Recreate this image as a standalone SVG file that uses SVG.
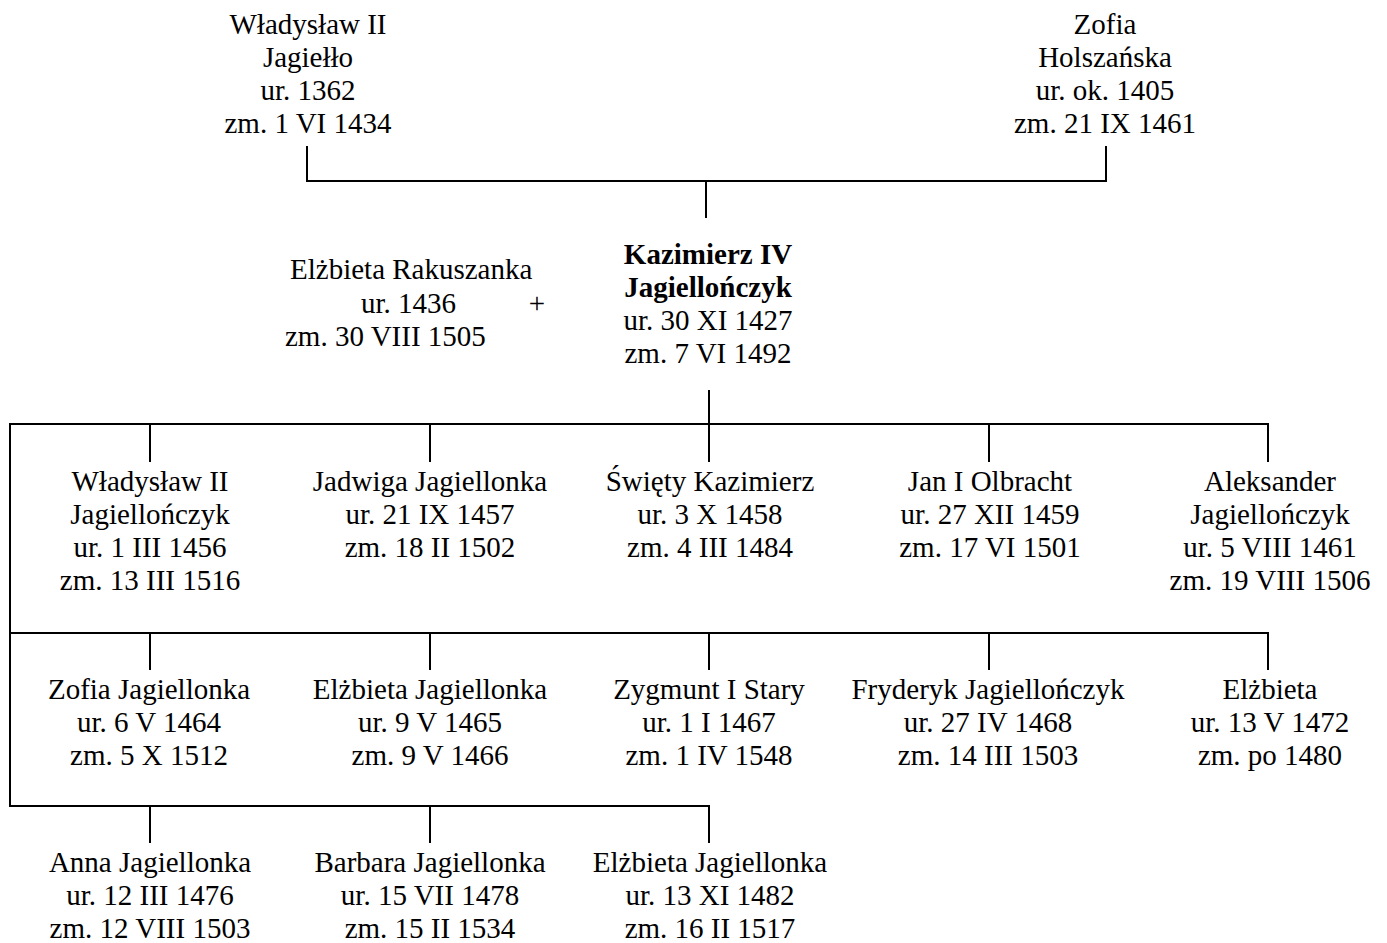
<svg xmlns="http://www.w3.org/2000/svg" width="1387" height="943" viewBox="0 0 1387 943">
<style>
text{font-family:"Liberation Serif","Times New Roman",serif;font-size:29px;fill:#000;text-anchor:middle}
.b{font-weight:bold}
.l{text-anchor:start}
#connectors line{stroke:#000;stroke-width:2;fill:none}
</style>
<rect width="1387" height="943" fill="#fff"/>
<g id="connectors">
<line x1="307" y1="146" x2="307" y2="182"/>
<line x1="1106" y1="146" x2="1106" y2="182"/>
<line x1="306" y1="181" x2="1107" y2="181"/>
<line x1="706" y1="181" x2="706" y2="218"/>
<line x1="709" y1="390" x2="709" y2="424"/>
<line x1="10" y1="424" x2="1269" y2="424"/>
<line x1="10" y1="423" x2="10" y2="807"/>
<line x1="150" y1="424" x2="150" y2="462"/>
<line x1="430" y1="424" x2="430" y2="462"/>
<line x1="709" y1="424" x2="709" y2="462"/>
<line x1="989" y1="424" x2="989" y2="462"/>
<line x1="1268" y1="424" x2="1268" y2="462"/>
<line x1="10" y1="633" x2="1269" y2="633"/>
<line x1="150" y1="633" x2="150" y2="670"/>
<line x1="430" y1="633" x2="430" y2="670"/>
<line x1="709" y1="633" x2="709" y2="670"/>
<line x1="989" y1="633" x2="989" y2="670"/>
<line x1="1268" y1="633" x2="1268" y2="670"/>
<line x1="9" y1="806" x2="710" y2="806"/>
<line x1="150" y1="806" x2="150" y2="843"/>
<line x1="430" y1="806" x2="430" y2="843"/>
<line x1="709" y1="806" x2="709" y2="843"/>
</g>
<g id="wladyslaw-jagiello"><text x="308" y="34">Władysław II</text><text x="308" y="67">Jagiełło</text><text x="308" y="100">ur. 1362</text><text x="308" y="133">zm. 1 VI 1434</text></g>
<g id="zofia-holszanska"><text x="1105" y="34">Zofia</text><text x="1105" y="67">Holszańska</text><text x="1105" y="100">ur. ok. 1405</text><text x="1105" y="133">zm. 21 IX 1461</text></g>
<g id="elzbieta-rakuszanka"><text class="l" x="290" y="279">Elżbieta Rakuszanka</text><text class="l" x="361" y="313">ur. 1436</text><text x="537" y="313">+</text><text class="l" x="285" y="346">zm. 30 VIII 1505</text></g>
<g id="kazimierz-iv"><text class="b" x="708" y="264">Kazimierz IV</text><text class="b" x="708" y="297">Jagiellończyk</text><text x="708" y="330">ur. 30 XI 1427</text><text x="708" y="363">zm. 7 VI 1492</text></g>
<g id="wladyslaw-jagiellonczyk"><text x="150" y="491">Władysław II</text><text x="150" y="524">Jagiellończyk</text><text x="150" y="557">ur. 1 III 1456</text><text x="150" y="590">zm. 13 III 1516</text></g>
<g id="jadwiga"><text x="430" y="491">Jadwiga Jagiellonka</text><text x="430" y="524">ur. 21 IX 1457</text><text x="430" y="557">zm. 18 II 1502</text></g>
<g id="swiety-kazimierz"><text x="710" y="491">Święty Kazimierz</text><text x="710" y="524">ur. 3 X 1458</text><text x="710" y="557">zm. 4 III 1484</text></g>
<g id="jan-olbracht"><text x="990" y="491">Jan I Olbracht</text><text x="990" y="524">ur. 27 XII 1459</text><text x="990" y="557">zm. 17 VI 1501</text></g>
<g id="aleksander"><text x="1270" y="491">Aleksander</text><text x="1270" y="524">Jagiellończyk</text><text x="1270" y="557">ur. 5 VIII 1461</text><text x="1270" y="590">zm. 19 VIII 1506</text></g>
<g id="zofia-jagiellonka"><text x="149" y="699">Zofia Jagiellonka</text><text x="149" y="732">ur. 6 V 1464</text><text x="149" y="765">zm. 5 X 1512</text></g>
<g id="elzbieta-1465"><text x="430" y="699">Elżbieta Jagiellonka</text><text x="430" y="732">ur. 9 V 1465</text><text x="430" y="765">zm. 9 V 1466</text></g>
<g id="zygmunt"><text x="709" y="699">Zygmunt I Stary</text><text x="709" y="732">ur. 1 I 1467</text><text x="709" y="765">zm. 1 IV 1548</text></g>
<g id="fryderyk"><text x="988" y="699">Fryderyk Jagiellończyk</text><text x="988" y="732">ur. 27 IV 1468</text><text x="988" y="765">zm. 14 III 1503</text></g>
<g id="elzbieta-1472"><text x="1270" y="699">Elżbieta</text><text x="1270" y="732">ur. 13 V 1472</text><text x="1270" y="765">zm. po 1480</text></g>
<g id="anna"><text x="150" y="872">Anna Jagiellonka</text><text x="150" y="905">ur. 12 III 1476</text><text x="150" y="938">zm. 12 VIII 1503</text></g>
<g id="barbara"><text x="430" y="872">Barbara Jagiellonka</text><text x="430" y="905">ur. 15 VII 1478</text><text x="430" y="938">zm. 15 II 1534</text></g>
<g id="elzbieta-1482"><text x="710" y="872">Elżbieta Jagiellonka</text><text x="710" y="905">ur. 13 XI 1482</text><text x="710" y="938">zm. 16 II 1517</text></g>
</svg>
